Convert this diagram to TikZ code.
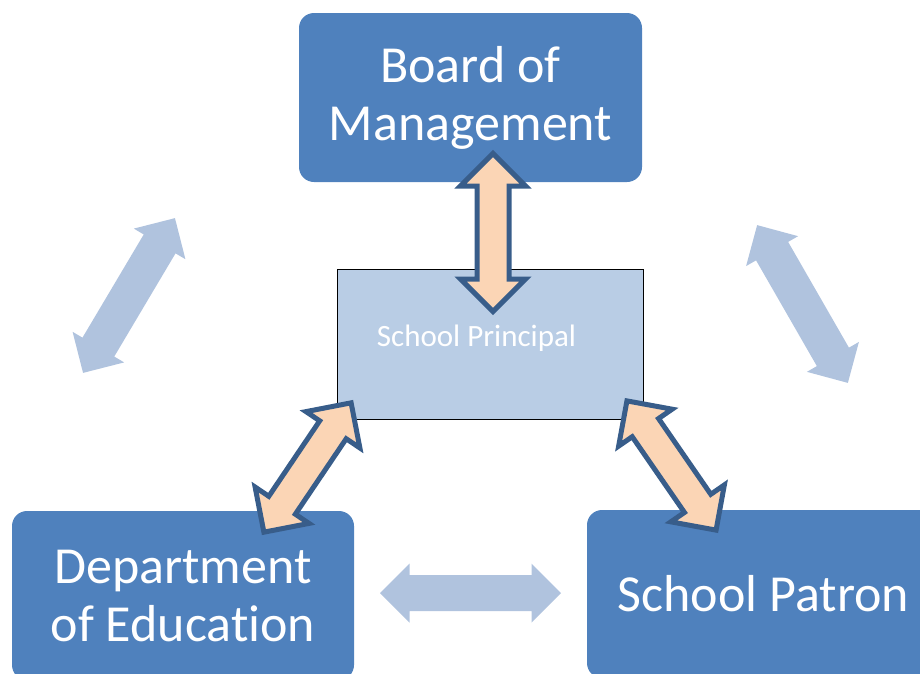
\documentclass[tikz,border=0pt]{standalone}
\usepackage{fontspec}
\setmainfont{Carlito}[Ligatures=NoCommon]
\usetikzlibrary{calc}

\definecolor{boxblue}{HTML}{4F81BD}
\definecolor{paleblue}{HTML}{B9CDE5}
\definecolor{peach}{HTML}{FBD5B5}
\definecolor{edgeblue}{HTML}{385D8A}
\definecolor{mistblue}{HTML}{B0C3DE}

% block arrow with a head at both ends: half length / half shaft / half head
\tikzset{
    pics/twoway/.style n args={3}{code={
        \path[pic actions] (-#1,0) -- (-#1+#3,-#3) -- (-#1+#3,-#2) -- (#1-#3,-#2)
            -- (#1-#3,-#3) -- (#1,0) -- (#1-#3,#3) -- (#1-#3,#2)
            -- (-#1+#3,#2) -- (-#1+#3,#3) -- cycle;
    }}
}

\begin{document}
\begin{tikzpicture}[
    x=1pt, y=-1pt,
    group/.style={fill=boxblue, rounded corners=15pt, text=white, align=center, inner sep=0pt,
        font=\fontsize{52}{58}\selectfont},
    principal/.style={draw=black, line width=0.8pt, fill=paleblue, inner sep=0pt,
        minimum width=306pt, minimum height=150pt},
    link/.style={draw=edgeblue, line width=5pt, fill=peach},
    faint/.style={fill=mistblue}
]
    \useasboundingbox (0,0) rectangle (920,673);
    \clip (0,0) rectangle (920,673);

    % the three bodies round the principal
    \node[group, minimum width=343pt, minimum height=169pt] (board) at (470.5,97.5) {Board of\\Management};
    \node[group, minimum width=342pt, minimum height=169pt] (dept) at (183,595.5) {Department\\of Education};
    \node[group, minimum width=353pt, minimum height=168pt] (patron) at (763.5,594) {School Patron};

    \node[principal] (principal) at (490,344) {};
    \node[text=white, font=\fontsize{31}{36}\selectfont, inner sep=0pt] (ptitle)
        at ($(principal.center)+(-13.5,-6)$) {School Principal};

    % links between the bodies themselves
    \pic[faint, rotate=59.3] (boarddept) at (129,295.5) {twoway={90}{18.5}{30}};
    \pic[faint, rotate=119.9] (boardpatron) at (802.5,304) {twoway={91}{18.5}{30}};
    \pic[faint] (deptpatron) at (470.5,593) {twoway={90.5}{18}{29.5}};

    % links to the principal
    \pic[link, rotate=90] (boardlink) at (493,232.5) {twoway={79}{16}{32.5}};
    \pic[link, rotate=56] (deptlink) at (307.5,467.5) {twoway={78}{16}{32.5}};
    \pic[link, rotate=124.6] (patronlink) at (671.5,465.5) {twoway={78.5}{16}{32.5}};
\end{tikzpicture}
\end{document}
